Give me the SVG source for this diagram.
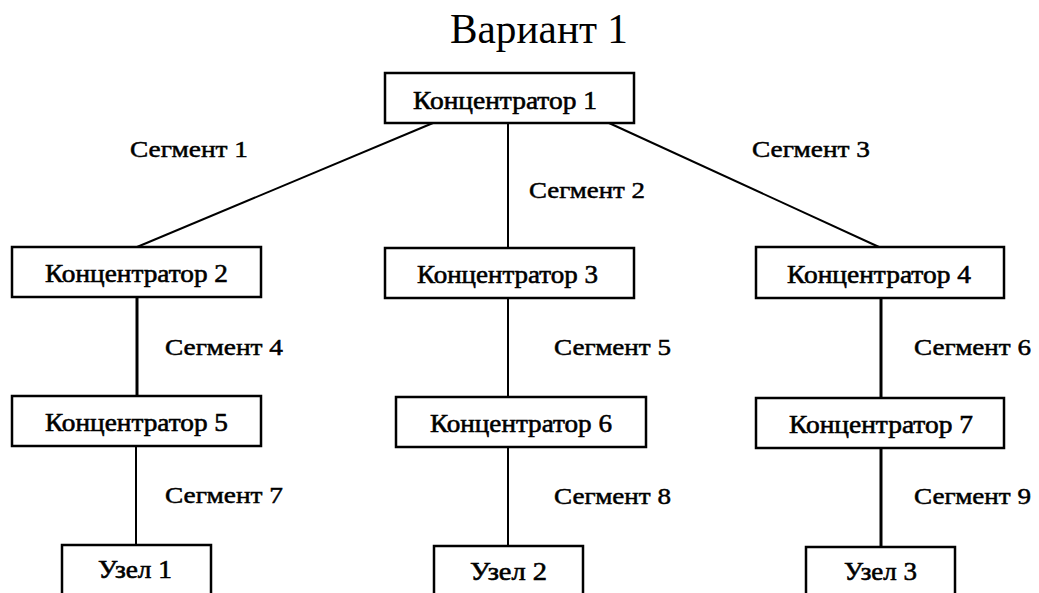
<svg xmlns="http://www.w3.org/2000/svg" width="1039" height="593" viewBox="0 0 1039 593">
<style>
.box{fill:#fff;stroke:#000;stroke-width:2.5}
.ln{stroke:#000;stroke-width:2;fill:none}
.thick{stroke-width:3}
.nt{font-family:"Liberation Serif","Times New Roman",serif;font-size:26px;text-anchor:middle;fill:#000;stroke:#000;stroke-width:0.6}
.sl{font-family:"Liberation Serif","Times New Roman",serif;font-size:24px;fill:#000;stroke:#000;stroke-width:0.5}
.title{font-family:"Liberation Serif","Times New Roman",serif;font-size:42px;fill:#000}
</style>
<rect width="1039" height="593" fill="#fff"/>
<text class="title" x="450" y="43" textLength="178" lengthAdjust="spacingAndGlyphs">Вариант 1</text>
<g id="connectors">
<line class="ln" x1="433" y1="123" x2="137" y2="247"/>
<line class="ln" x1="508" y1="123" x2="508" y2="248"/>
<line class="ln" x1="609" y1="123" x2="879" y2="247"/>
<line class="ln thick" x1="137" y1="297" x2="137" y2="396"/>
<line class="ln" x1="508" y1="298" x2="508" y2="397"/>
<line class="ln thick" x1="881" y1="298" x2="881" y2="398"/>
<line class="ln" x1="136" y1="446" x2="136" y2="545"/>
<line class="ln" x1="508" y1="447" x2="508" y2="546"/>
<line class="ln thick" x1="881" y1="448" x2="881" y2="547"/>
<text class="sl" x="130" y="157" textLength="118" lengthAdjust="spacingAndGlyphs">Сегмент 1</text>
<text class="sl" x="529" y="198" textLength="116" lengthAdjust="spacingAndGlyphs">Сегмент 2</text>
<text class="sl" x="752" y="157" textLength="118" lengthAdjust="spacingAndGlyphs">Сегмент 3</text>
<text class="sl" x="165" y="355" textLength="118" lengthAdjust="spacingAndGlyphs">Сегмент 4</text>
<text class="sl" x="554" y="355" textLength="117" lengthAdjust="spacingAndGlyphs">Сегмент 5</text>
<text class="sl" x="914" y="355" textLength="117" lengthAdjust="spacingAndGlyphs">Сегмент 6</text>
<text class="sl" x="165" y="503" textLength="118" lengthAdjust="spacingAndGlyphs">Сегмент 7</text>
<text class="sl" x="554" y="504" textLength="117" lengthAdjust="spacingAndGlyphs">Сегмент 8</text>
<text class="sl" x="914" y="504" textLength="117" lengthAdjust="spacingAndGlyphs">Сегмент 9</text>
</g>
<g id="hub1"><rect class="box" x="385" y="73" width="249" height="50"/><text class="nt" x="505" y="109" textLength="184" lengthAdjust="spacingAndGlyphs">Концентратор 1</text></g>
<g id="hub2"><rect class="box" x="12" y="247" width="249" height="50"/><text class="nt" x="136.5" y="282" textLength="183" lengthAdjust="spacingAndGlyphs">Концентратор 2</text></g>
<g id="hub3"><rect class="box" x="385" y="248" width="249" height="50"/><text class="nt" x="507.5" y="283" textLength="181" lengthAdjust="spacingAndGlyphs">Концентратор 3</text></g>
<g id="hub4"><rect class="box" x="756" y="247" width="248" height="51"/><text class="nt" x="879" y="283" textLength="184" lengthAdjust="spacingAndGlyphs">Концентратор 4</text></g>
<g id="hub5"><rect class="box" x="12" y="396" width="249" height="50"/><text class="nt" x="136.5" y="431" textLength="183" lengthAdjust="spacingAndGlyphs">Концентратор 5</text></g>
<g id="hub6"><rect class="box" x="396" y="397" width="250" height="50"/><text class="nt" x="521" y="432" textLength="182" lengthAdjust="spacingAndGlyphs">Концентратор 6</text></g>
<g id="hub7"><rect class="box" x="756" y="398" width="248" height="50"/><text class="nt" x="881" y="433" textLength="184" lengthAdjust="spacingAndGlyphs">Концентратор 7</text></g>
<g id="node1"><rect class="box" x="62" y="545" width="149" height="60"/><text class="nt" x="135" y="578" textLength="74" lengthAdjust="spacingAndGlyphs">Узел 1</text></g>
<g id="node2"><rect class="box" x="434" y="546" width="149" height="60"/><text class="nt" x="508.5" y="580" textLength="77" lengthAdjust="spacingAndGlyphs">Узел 2</text></g>
<g id="node3"><rect class="box" x="806" y="547" width="149" height="60"/><text class="nt" x="880.5" y="580" textLength="73" lengthAdjust="spacingAndGlyphs">Узел 3</text></g>
</svg>
